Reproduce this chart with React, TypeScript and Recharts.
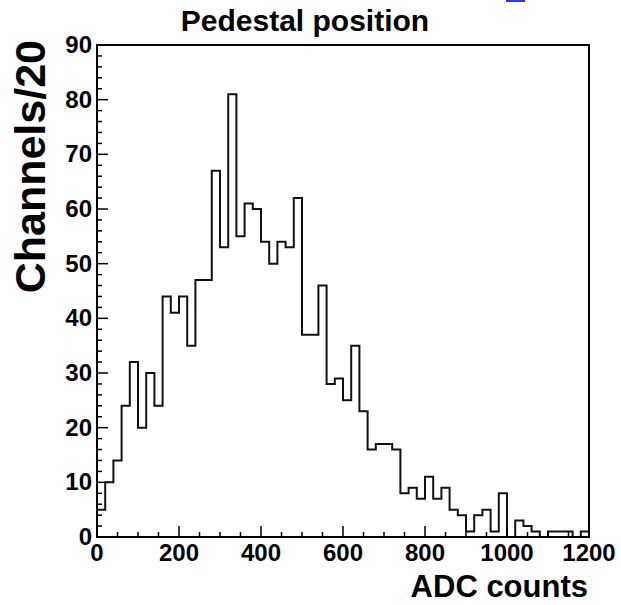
import { ComposedChart, Line, XAxis, YAxis } from "recharts";

// ADC pedestal histogram, 20 channels per bin, 0..1200
const BIN_WIDTH = 20;
const COUNTS = [
    5, 10, 14, 24, 32, 20, 30, 24, 44, 41,
    44, 35, 47, 47, 67, 53, 81, 55, 61, 60,
    54, 50, 54, 53, 62, 37, 37, 46, 28, 29,
    25, 35, 23, 16, 17, 17, 16, 8, 9, 7,
    11, 7, 9, 5, 4, 1, 4, 5, 1, 8,
    0, 3, 2, 1, 0, 1, 1, 1, 0, 1,
];
const X_TICKS = [0, 200, 400, 600, 800, 1000, 1200];
const Y_TICKS = [0, 10, 20, 30, 40, 50, 60, 70, 80, 90];
const X_MINOR_STEP = 50;
const Y_MINOR_STEP = 2;

const X_MAX = COUNTS.length * BIN_WIDTH;
const Y_MAX = 90;

// step line: start at baseline, one point per bin edge, drop back to baseline
const steps = [
    { adc: 0, n: 0 },
    ...COUNTS.map((n, i) => ({ adc: i * BIN_WIDTH, n })),
    { adc: X_MAX, n: COUNTS[COUNTS.length - 1] },
    { adc: X_MAX, n: 0 },
];

const xAll = Array.from({ length: X_MAX / X_MINOR_STEP + 1 }, (_, i) => i * X_MINOR_STEP);
const yAll = Array.from({ length: Y_MAX / Y_MINOR_STEP + 1 }, (_, i) => i * Y_MINOR_STEP);

const W = 621;
const H = 605;
const AXIS_W = 97; // y axis gutter
const AXIS_H = 68; // x axis gutter
const MARGIN = { top: 45, right: 32, bottom: 0, left: 0 };
const PLOT_W = W - MARGIN.left - AXIS_W - MARGIN.right;
const PLOT_H = H - MARGIN.top - AXIS_H - MARGIN.bottom;

const FONT = '"Liberation Sans", Arial, Helvetica, sans-serif';

const XTick = ({ x, y, payload }: any) => {
    const major = X_TICKS.includes(payload.value);
    return (
        <g>
            <line x1={x} x2={x} y1={y} y2={y - (major ? 11 : 5)} stroke="#000" strokeWidth={1.5} />
            {major && (
                <text x={x} y={y + 24} textAnchor="middle" fontFamily={FONT} fontWeight="bold" fontSize={24} fill="#000">
                    {payload.value}
                </text>
            )}
        </g>
    );
};

const YTick = ({ x, y, payload }: any) => {
    const major = Y_TICKS.includes(payload.value);
    return (
        <g>
            <line x1={x} x2={x + (major ? 11 : 5)} y1={y} y2={y} stroke="#000" strokeWidth={1.5} />
            {major && (
                <text x={x - 5} y={y + 8} textAnchor="end" fontFamily={FONT} fontWeight="bold" fontSize={24} fill="#000">
                    {payload.value}
                </text>
            )}
        </g>
    );
};

const PedestalHistogram = () => (
    <div style={{ position: "absolute", left: 0, top: 0, width: W, height: H, background: "#fff" }}>
        <ComposedChart width={W} height={H} data={steps} margin={MARGIN}>
            <XAxis
                dataKey="adc"
                type="number"
                domain={[0, X_MAX]}
                ticks={xAll}
                interval={0}
                height={AXIS_H}
                tickSize={0}
                tickMargin={0}
                axisLine={false}
                tickLine={false}
                tick={<XTick />}
            />
            <YAxis
                type="number"
                domain={[0, Y_MAX]}
                ticks={yAll}
                interval={0}
                width={AXIS_W}
                tickSize={0}
                tickMargin={0}
                axisLine={false}
                tickLine={false}
                tick={<YTick />}
            />
            <Line
                type="stepAfter"
                dataKey="n"
                stroke="#111"
                strokeWidth={2}
                dot={false}
                activeDot={false}
                isAnimationActive={false}
            />
        </ComposedChart>
        {/* plot frame */}
        <div
            style={{
                position: "absolute",
                left: MARGIN.left + AXIS_W - 1,
                top: MARGIN.top - 1,
                width: PLOT_W + 2,
                height: PLOT_H + 2,
                boxSizing: "border-box",
                border: "2px solid #000",
                pointerEvents: "none",
            }}
        />
        <svg width={W} height={H} style={{ position: "absolute", left: 0, top: 0, pointerEvents: "none" }}>
            <g fontFamily={FONT} fontWeight="bold" fill="#000">
                <text x={305} y={31} textAnchor="middle" fontSize={30}>
                    Pedestal position
                </text>
                <text x={45} y={40} textAnchor="end" fontSize={43} transform="rotate(-90 45 40)">
                    Channels/20
                </text>
                <text x={588} y={597} textAnchor="end" fontSize={31}>
                    ADC counts
                </text>
            </g>
            <rect x={506} y={0} width={19} height={2} fill="#2b3bef" />
        </svg>
    </div>
);

export default function App() {
    return <PedestalHistogram />;
}
